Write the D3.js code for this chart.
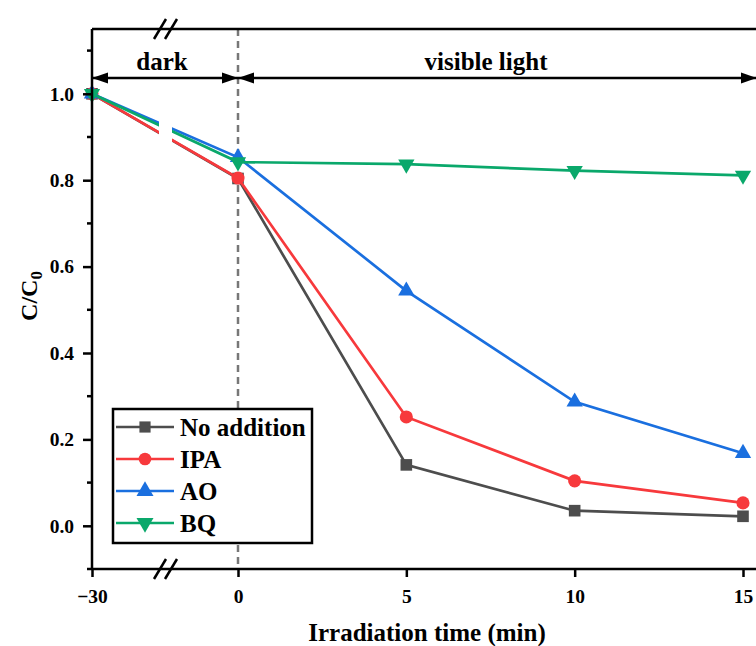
<!DOCTYPE html>
<html>
<head>
<meta charset="utf-8">
<script src="https://cdn.jsdelivr.net/npm/d3@7"></script>
<style>
  body { margin: 0; background: #fff; }
  svg { display: block; }
  svg text { font-family: "Times New Roman", Times, "Liberation Serif", "DejaVu Serif", serif; font-weight: bold; fill: #000; }
  .axis path, .axis line { stroke: #000; stroke-width: 2.5; }
  .axis text { font-size: 19.5px; }
</style>
</head>
<body>
<script>
let width = 756,
    height = 646;

// data
let times = [-30, 0, 5, 10, 15];
let noAddition = [1.0, 0.804, 0.141, 0.035, 0.022];
let ipa = [1.0, 0.805, 0.252, 0.104, 0.053];
let ao = [1.0, 0.853, 0.544, 0.287, 0.168];
let bq = [1.0, 0.842, 0.837, 0.822, 0.811];

let seriesNames = ['No addition', 'IPA', 'AO', 'BQ'];
let seriesColors = ['#4d4d4d', '#f7393c', '#1a6fdf', '#0aa86b'];
let seriesSymbols = [d3.symbolSquare, d3.symbolCircle, d3.symbolTriangle, d3.symbolTriangle];

let xTicks = [-30, 0, 5, 10, 15];
let yTicks = [0, 0.2, 0.4, 0.6, 0.8, 1.0];
let yMinorTicks = [-0.1, 0.1, 0.3, 0.5, 0.7, 0.9, 1.1];

let series = seriesNames.map((name, i) => ({
    name: name,
    color: seriesColors[i],
    symbol: seriesSymbols[i],
    flip: name === 'BQ',
    values: [noAddition, ipa, ao, bq][i].map((v, j) => ({t: times[j], v: v}))
}));

let plotLeft = 92, plotTop = 29, plotBottom = 569, plotRight = 760;

// broken axis: the dark period is squeezed
let x = d3.scaleLinear().domain([-30, 0, 15]).range([plotLeft, 238, 743]);
let y = d3.scaleLinear().domain([-0.1, 1.15]).range([plotBottom, plotTop]);

let svg = d3.select('body').append('svg')
    .attr('width', width)
    .attr('height', height);

// dashed divider at t = 0
svg.append('line')
    .attr('x1', x(0)).attr('x2', x(0))
    .attr('y1', plotTop).attr('y2', plotBottom)
    .attr('stroke', '#777').attr('stroke-width', 2.5)
    .attr('stroke-dasharray', '7,5');

// series
let line = d3.line().x(d => x(d.t)).y(d => y(d.v));
series.forEach(s => {
    let g = svg.append('g');
    g.append('path')
        .datum(s.values)
        .attr('d', line)
        .attr('fill', 'none')
        .attr('stroke', s.color)
        .attr('stroke-width', 2.7);
    let size = s.symbol === d3.symbolTriangle ? 115 : 135;
    g.selectAll('path.pt').data(s.values).enter()
        .append('path')
        .attr('class', 'pt')
        .attr('d', d3.symbol().type(s.symbol).size(size))
        .attr('transform', d => 'translate(' + x(d.t) + ',' + y(d.v) + ')' + (s.flip ? ' rotate(180)' : ''))
        .attr('fill', s.color);
});

// gap in the lines at the axis break
svg.append('rect')
    .attr('x', 159).attr('y', 86)
    .attr('width', 13).attr('height', 470)
    .attr('fill', '#fff');

// axes
let xAxis = d3.axisBottom(x)
    .tickValues(xTicks)
    .tickSize(8).tickSizeOuter(0).tickPadding(12)
    .tickFormat(d => d < 0 ? '\u2212' + Math.abs(d) : d);
let gx = svg.append('g').attr('class', 'axis')
    .attr('transform', 'translate(0,' + plotBottom + ')')
    .call(xAxis);
gx.select('.domain').remove();
gx.append('line').attr('x1', plotLeft).attr('x2', plotRight).attr('y1', 0).attr('y2', 0);

let yAxis = d3.axisLeft(y)
    .tickValues(yTicks)
    .tickSize(9).tickSizeOuter(0).tickPadding(9)
    .tickFormat(d3.format('.1f'));
let gy = svg.append('g').attr('class', 'axis')
    .attr('transform', 'translate(' + plotLeft + ',0)')
    .call(yAxis);
gy.select('.domain').remove();
gy.append('line').attr('x1', 0).attr('x2', 0).attr('y1', plotTop).attr('y2', plotBottom);
gy.selectAll('line.minor').data(yMinorTicks).enter()
    .append('line').attr('class', 'minor')
    .attr('x1', -5).attr('x2', 0)
    .attr('y1', d => y(d)).attr('y2', d => y(d));

// top frame
svg.append('line')
    .attr('x1', plotLeft).attr('x2', plotRight)
    .attr('y1', plotTop).attr('y2', plotTop)
    .attr('stroke', '#000').attr('stroke-width', 2.5);

// break marks
[plotTop, plotBottom].forEach(yy => {
    [0, 11].forEach(dx => {
        svg.append('line')
            .attr('x1', 154 + dx).attr('y1', yy + 10)
            .attr('x2', 166 + dx).attr('y2', yy - 10)
            .attr('stroke', '#000').attr('stroke-width', 2.5);
    });
});

// period arrows
function arrow(x1, x2, yy) {
    svg.append('line')
        .attr('x1', x1).attr('x2', x2)
        .attr('y1', yy).attr('y2', yy)
        .attr('stroke', '#000').attr('stroke-width', 2.5);
    svg.append('path')
        .attr('d', 'M' + x1 + ',' + yy + 'l16,-5.5l0,11z')
        .attr('fill', '#000');
    svg.append('path')
        .attr('d', 'M' + x2 + ',' + yy + 'l-16,-5.5l0,11z')
        .attr('fill', '#000');
}
let arrowY = 78;
arrow(x(-30), x(0), arrowY);
arrow(x(0), 757, arrowY);

svg.append('text')
    .attr('x', (x(-30) + x(0)) / 2 - 3).attr('y', 70)
    .attr('text-anchor', 'middle')
    .attr('font-size', 25)
    .text('dark');
svg.append('text')
    .attr('x', 486).attr('y', 70)
    .attr('text-anchor', 'middle')
    .attr('font-size', 25)
    .text('visible light');

// axis titles
svg.append('text')
    .attr('x', 427).attr('y', 641)
    .attr('text-anchor', 'middle')
    .attr('font-size', 25)
    .text('Irradiation time (min)');

let yTitle = svg.append('text')
    .attr('transform', 'translate(37,296) rotate(-90)')
    .attr('text-anchor', 'middle')
    .attr('font-size', 24);
yTitle.append('tspan').text('C/C');
yTitle.append('tspan').attr('font-size', 17).attr('dy', 5).text('0');

// legend
let legend = svg.append('g');
legend.append('rect')
    .attr('x', 113).attr('y', 409)
    .attr('width', 199).attr('height', 134)
    .attr('fill', '#fff')
    .attr('stroke', '#000').attr('stroke-width', 2.5);
series.forEach((s, i) => {
    let cy = 427 + i * 32;
    legend.append('line')
        .attr('x1', 116).attr('x2', 174)
        .attr('y1', cy).attr('y2', cy)
        .attr('stroke', s.color).attr('stroke-width', 2.7);
    legend.append('path')
        .attr('d', d3.symbol().type(s.symbol).size(125))
        .attr('transform', 'translate(145,' + cy + ')' + (s.flip ? ' rotate(180)' : ''))
        .attr('fill', s.color);
    legend.append('text')
        .attr('x', 180).attr('y', cy + 9)
        .attr('font-size', 25)
        .text(s.name);
});
</script>
</body>
</html>
